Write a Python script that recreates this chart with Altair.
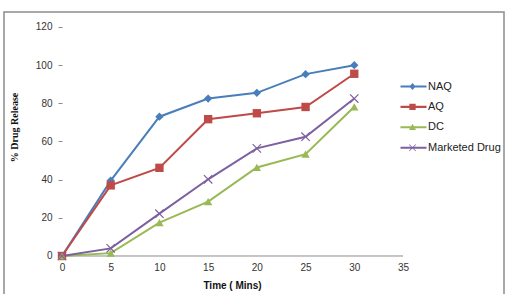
import altair as alt
import pandas as pd

time = [0, 5, 10, 15, 20, 25, 30]
series_names = ["NAQ", "AQ", "DC", "Marketed Drug"]
naq = [0, 39.5, 73, 82.5, 85.5, 95.3, 100]
aq = [0, 37, 46.2, 71.7, 74.8, 78.1, 95.5]
dc = [0, 1.5, 17.5, 28.5, 46.4, 53.4, 78.2]
marketed = [0, 4, 22.2, 40.2, 56.4, 62.5, 82.5]
colors = ["#4A7EBB", "#BE4B48", "#98B954", "#7D60A0"]
x_ticks = [0, 5, 10, 15, 20, 25, 30, 35]
y_ticks = [0, 20, 40, 60, 80, 100, 120]
x_axis_extent = [0, 35]

rows = []
for name, vals in zip(series_names, [naq, aq, dc, marketed]):
    for t, v in zip(time, vals):
        rows.append({"Time": t, "Release": v, "Series": name})
df = pd.DataFrame(rows)

# the view rectangle acts as the outer chart frame; scales are extended so
# the data region (0-35, 0-120) sits where the reference plot area is
x_scale = alt.Scale(domain=[-5.953, 45.367], nice=False, zero=False)
y_scale = alt.Scale(domain=[-20.961, 127.86], nice=False, zero=False)

x_enc = alt.X("Time:Q", scale=x_scale,
              axis=alt.Axis(values=x_ticks, title="Time ( Mins)", grid=False,
                            ticks=False, domain=False, offset=-40,
                            labelPadding=6, labelOverlap=False,
                            labelFont="Liberation Sans", labelFontSize=10,
                            labelColor="#333333", titleFont="Liberation Sans",
                            titleFontSize=10, titleFontWeight="bold",
                            titleColor="#111111", titleX=228, titleY=29,
                            titleBaseline="middle", titleAlign="center"))
y_enc = alt.Y("Release:Q", scale=y_scale,
              axis=alt.Axis(values=y_ticks, title="% Drug Release", grid=False,
                            domain=False, tickSize=4, tickColor="#8c8c8c",
                            offset=-58, labelPadding=6, labelOverlap=False,
                            labelFont="Liberation Sans",
                            labelFontSize=10, labelColor="#333333",
                            titleFont="Liberation Serif", titleFontSize=10,
                            titleFontWeight="bold", titleColor="#111111",
                            titleAngle=-90, titleX=-48, titleY=115,
                            titleBaseline="middle", titleAlign="center"))

color_scale = alt.Scale(domain=series_names, range=colors)

axis_df = pd.DataFrame({"Time": [x_axis_extent[0]], "Time2": [x_axis_extent[1]],
                        "Release": [0]})
x_axis_line = alt.Chart(axis_df).mark_rule(color="#8c8c8c", strokeWidth=1).encode(
    x=x_enc, x2="Time2:Q", y=y_enc)

shapes = ["diamond", "square", "triangle-up", "M-1,-1L1,1M-1,1L1,-1"]
line_layers = []
point_layers = []
for name, shp, col in zip(series_names, shapes, colors):
    base = alt.Chart(df).transform_filter(alt.datum.Series == name)
    ln = base.mark_line(strokeWidth=2, color=col).encode(x=x_enc, y=y_enc)
    line_layers.append(ln)
    filled = name != "Marketed Drug"
    pl = base.mark_point(shape=shp, size=70, filled=filled, opacity=1, color=col,
                         strokeWidth=1.2).encode(x=x_enc, y=y_enc)
    point_layers.append(pl)

line_part = "M-3.43,-0.3H4V0.3H-3.43Z"
legend_shapes = [
    line_part + "M0,-1L0.9,0L0,1L-0.9,0Z",
    line_part + "M-0.9,-0.9H0.9V0.9H-0.9Z",
    line_part + "M0,-1L1,0.8L-1,0.8Z",
    line_part + "M-0.85,-1L1,0.85L0.85,1L-1,-0.85ZM1,-0.85L-0.85,1L-1,0.85L0.85,-1Z",
]

legend_layer = alt.Chart(df).transform_filter("false").mark_point(
    filled=True, opacity=1).encode(
    x=x_enc, y=y_enc,
    color=alt.Color("Series:N", scale=color_scale,
                    legend=alt.Legend(title=None, orient="none", legendX=403,
                                      legendY=69, symbolSize=49,
                                      symbolStrokeWidth=0, symbolOpacity=1,
                                      labelOffset=10, rowPadding=8.4,
                                      labelFont="Liberation Sans",
                                      labelFontSize=11, labelColor="#222222",
                                      padding=0)),
    shape=alt.Shape("Series:N", scale=alt.Scale(domain=series_names,
                                                range=legend_shapes)),
)

chart = alt.layer(x_axis_line, *line_layers, *point_layers, legend_layer).properties(
    width=500, height=284,
    padding={"left": 4, "top": 12, "right": 2, "bottom": 0},
    autosize=alt.AutoSizeParams(type="none"),
    background="white",
).configure_view(stroke="#8c8c8c", strokeWidth=1.5)

chart.save("out.html", embed_options={"renderer": "svg", "actions": False})
